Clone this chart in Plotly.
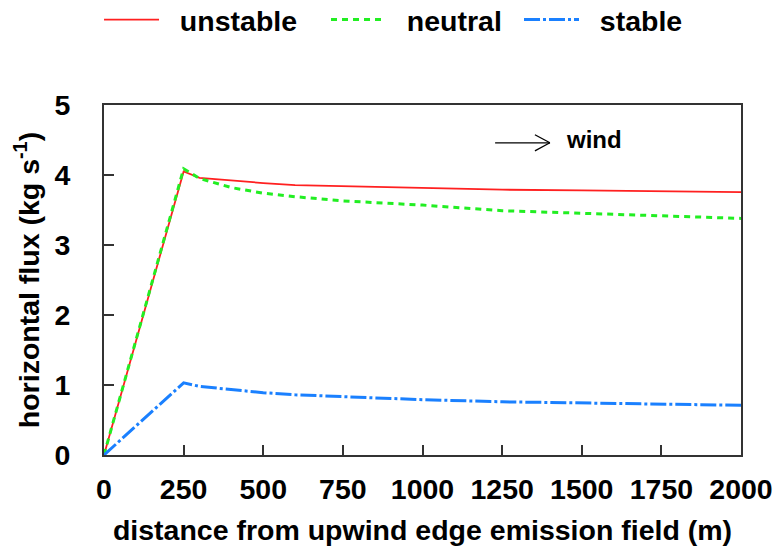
import plotly.graph_objects as go

distance = [0, 250, 300, 400, 500, 600, 750, 1000, 1250, 1500, 1750, 2000]
unstable = [0, 4.05, 3.96, 3.92, 3.885, 3.855, 3.84, 3.81, 3.79, 3.78, 3.77, 3.755]
neutral = [0, 4.09, 3.95, 3.82, 3.74, 3.69, 3.63, 3.57, 3.49, 3.45, 3.41, 3.38]
stable = [0, 1.03, 0.98, 0.93, 0.89, 0.86, 0.83, 0.79, 0.76, 0.74, 0.72, 0.71]

x_ticks = [0, 250, 500, 750, 1000, 1250, 1500, 1750, 2000]
y_ticks = [0, 1, 2, 3, 4, 5]

FONT = "Liberation Sans"
FS = 28.5

fig = go.Figure()
fig.add_trace(go.Scatter(x=distance, y=unstable, mode="lines", name="  unstable", legend="legend",
                         line=dict(color="#ff2020", width=1.8)))
fig.add_trace(go.Scatter(x=distance, y=neutral, mode="lines", name="  neutral", legend="legend2",
                         line=dict(color="#22ee22", width=3, dash="6px,5px")))
fig.add_trace(go.Scatter(x=distance, y=stable, mode="lines", name="  stable", legend="legend3",
                         line=dict(color="#1a80ff", width=3, dash="16px,3px,3px,3px")))

# wind arrow (decoration)
ay = 4.46
fig.add_shape(type="line", x0=1228, x1=1400, y0=ay, y1=ay, line=dict(color="black", width=1.3))
fig.add_shape(type="line", x0=1353, x1=1400, y0=ay + 0.115, y1=ay, line=dict(color="black", width=1.3))
fig.add_shape(type="line", x0=1353, x1=1400, y0=ay - 0.115, y1=ay, line=dict(color="black", width=1.3))
fig.add_annotation(x=1445, y=ay + 0.05, text="<b>wind</b>", showarrow=False, xanchor="left",
                   font=dict(family=FONT, size=24, color="black"))


def leg(xpos):
    return dict(orientation="h", x=xpos, y=0.9637, xanchor="left", yanchor="middle",
                yref="container", itemwidth=55,
                font=dict(family=FONT, size=FS, color="black", weight="bold"),
                bgcolor="rgba(0,0,0,0)")


fig.update_layout(
    width=776, height=551,
    margin=dict(l=104, r=35, t=105, b=96, autoexpand=False),
    plot_bgcolor="white", paper_bgcolor="white",
    font=dict(family=FONT, size=FS, color="black"),
    showlegend=True,
    legend=leg(-0.0078),
    legend2=leg(0.3485),
    legend3=leg(0.6515),
    xaxis=dict(range=[0, 2000], tickvals=x_ticks, ticks="inside", ticklen=10, tickwidth=1.5,
               tickcolor="#333", showline=True, linecolor="#333", linewidth=2, mirror=True,
               showgrid=False, zeroline=False,
               tickfont=dict(family=FONT, size=FS, weight="bold"), ticklabelstandoff=8,
               title=dict(text="<b>distance from upwind edge emission field (m)</b>",
                          font=dict(family=FONT, size=FS), standoff=16)),
    yaxis=dict(range=[0, 5], tickvals=y_ticks, ticks="inside", ticklen=10, tickwidth=1.5,
               tickcolor="#333", showline=True, linecolor="#333", linewidth=2, mirror=True,
               showgrid=False, zeroline=False,
               tickfont=dict(family=FONT, size=FS, weight="bold"), ticklabelstandoff=26,
               title=dict(text="<b>horizontal flux (kg s<sup>-1</sup>)</b>",
                          font=dict(family=FONT, size=FS), standoff=6)),
)

fig.write_html("out.html")
